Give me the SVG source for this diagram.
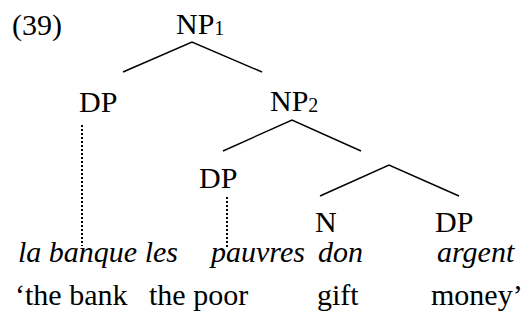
<svg xmlns="http://www.w3.org/2000/svg" width="526" height="320" viewBox="0 0 526 320">
<style>
.br{stroke:#000;stroke-width:1.4;fill:none}
.dot{stroke:#000;stroke-width:2;stroke-dasharray:2 2;fill:none}
</style>
<rect width="526" height="320" fill="#fff"/>
<text x="12" y="35" font-family="Liberation Serif" font-size="30">(39)</text>
<g id="connectors">
<path class="br" d="M123,72 L192,42 L262,72"/>
<path class="br" d="M223,151 L292,120 L361,151"/>
<path class="br" d="M320,196 L389,165 L459,196"/>
<path class="dot" d="M82,125 V246"/>
<path class="dot" d="M227,197 V248"/>
</g>
<g id="np1"><text x="176" y="34" font-family="Liberation Serif" font-size="30">NP<tspan font-size="20" dy="1">1</tspan></text></g>
<g id="dp1"><text x="79" y="112" font-family="Liberation Serif" font-size="30">DP</text></g>
<g id="np2"><text x="270" y="111" font-family="Liberation Serif" font-size="30">NP<tspan font-size="20" dy="1">2</tspan></text></g>
<g id="dp2"><text x="199" y="188" font-family="Liberation Serif" font-size="30">DP</text></g>
<g id="n"><text x="315" y="232" font-family="Liberation Serif" font-size="30">N</text></g>
<g id="dp3"><text x="435" y="232" font-family="Liberation Serif" font-size="30">DP</text></g>
<g id="words">
<text x="18" y="262" font-family="Liberation Serif" font-style="italic" font-size="30">la banque les</text>
<text x="211" y="262" font-family="Liberation Serif" font-style="italic" font-size="30">pauvres</text>
<text x="318" y="262" font-family="Liberation Serif" font-style="italic" font-size="30">don</text>
<text x="437" y="262" font-family="Liberation Serif" font-style="italic" font-size="30">argent</text>
</g>
<g id="gloss">
<text x="15" y="305" font-family="Liberation Serif" font-size="30">‘the bank</text>
<text x="149" y="305" font-family="Liberation Serif" font-size="30">the poor</text>
<text x="317" y="305" font-family="Liberation Serif" font-size="30">gift</text>
<text x="431" y="305" font-family="Liberation Serif" font-size="30">money’</text>
</g>
</svg>
